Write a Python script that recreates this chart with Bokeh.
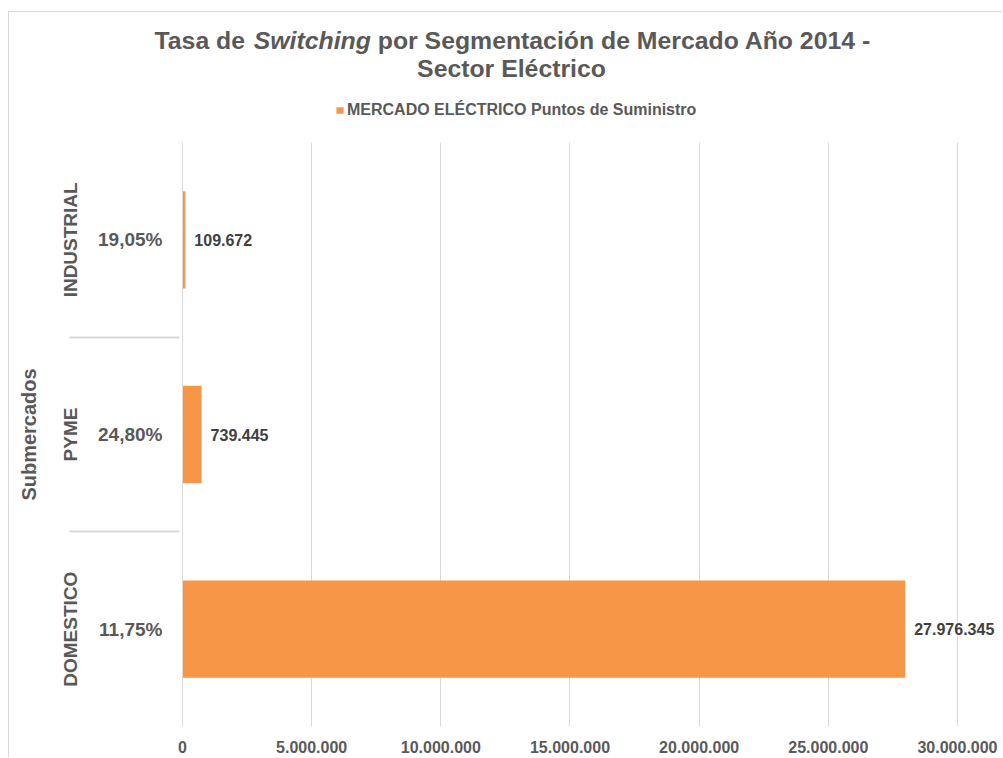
from bokeh.plotting import figure
from bokeh.models import (FactorRange, Range1d, Label, Legend, LegendItem,
                          ColumnDataSource)
from bokeh.core.properties import value
from bokeh.embed import file_html
from bokeh.resources import INLINE

# ---- data ----
segments = ["DOMESTICO", "PYME", "INDUSTRIAL"]
switching_rates = ["11,75%", "24,80%", "19,05%"]
supply_points = [27976345, 739445, 109672]
point_labels = ["27.976.345", "739.445", "109.672"]
x_ticks = [0, 5000000, 10000000, 15000000, 20000000, 25000000, 30000000]
x_tick_labels = ["0", "5.000.000", "10.000.000", "15.000.000",
                 "20.000.000", "25.000.000", "30.000.000"]
title_parts = ["Tasa de", "Switching", "por Segmentación de Mercado Año 2014 -"]
title_styles = ["bold", "bold italic", "bold"]
title_line2 = "Sector Eléctrico"
series_name = "MERCADO ELÉCTRICO Puntos de Suministro"
y_title = "Submercados"

FONT = "Liberation Sans"
GRAY = "#595959"
LINE = "#D9D9D9"
ORANGE = "#F79646"
TITLE_PX = 24.8
W = 994          # content width (8px margin + 1px border to the left)
H_TOP = 131      # title / legend strip
H_MAIN = 615     # chart

src = ColumnDataSource(dict(y=list(zip(segments, switching_rates)),
                            v=supply_points, lab=point_labels))

# ---- title + legend strip: its frame covers the whole strip ----
top = figure(width=W, height=H_TOP, x_range=Range1d(0, W), y_range=Range1d(0, H_TOP),
             output_backend="svg", toolbar_location=None,
             min_border_left=0, min_border_right=0,
             min_border_top=0, min_border_bottom=0)
top.axis.visible = False
top.grid.visible = False
top.outline_line_color = None
top.styles = {"margin-left": "8px", "margin-top": "11px",
              "border-left": "1px solid " + LINE, "border-top": "1px solid " + LINE}

# Liberation Sans Bold advance widths (per 1000 em): "Tasa de " and "Switching "
advance = [4002, 4723 + 278]
x0 = 145
for i, (t, s) in enumerate(zip(title_parts, title_styles)):
    top.add_layout(Label(x=x0, y=103, text=t, text_font=FONT,
                         text_font_style=s, text_font_size=f"{TITLE_PX}px",
                         text_color=GRAY, text_align="left",
                         text_baseline="alphabetic"))
    if i < len(advance):
        x0 += advance[i] * TITLE_PX / 1000.0
top.add_layout(Label(x=502, y=75, text=title_line2, text_font=FONT,
                     text_font_style="bold", text_font_size=f"{TITLE_PX}px",
                     text_color=GRAY, text_align="center",
                     text_baseline="alphabetic"))

# legend swatch comes from a hidden copy of the series (nothing is drawn)
legend_proxy = top.hbar(y=0, left=0, right="v", height=1, source=src,
                        fill_color=ORANGE, line_color=None, visible=False)
legend = Legend(items=[LegendItem(label=series_name, renderers=[legend_proxy])],
                location=(326, 23), orientation="horizontal",
                border_line_color=None, background_fill_alpha=0,
                inactive_fill_alpha=0,
                glyph_width=9, glyph_height=8, label_standoff=3,
                label_height=20, padding=0, margin=0, spacing=0,
                label_text_font=FONT, label_text_font_style="bold",
                label_text_font_size="16px", label_text_color=GRAY)
top.add_layout(legend, "center")

# ---- main chart ----
p = figure(width=W, height=H_MAIN,
           y_range=FactorRange(*src.data["y"], range_padding=0, group_padding=0,
                               factor_padding=0, subgroup_padding=0),
           x_range=Range1d(0, 31781000),
           output_backend="svg", toolbar_location=None,
           min_border_left=173, min_border_right=0,
           min_border_top=0, min_border_bottom=31)
p.outline_line_color = None
p.styles = {"margin-left": "8px", "border-left": "1px solid " + LINE}

bars = p.hbar(y="y", left=0, right="v", height=0.5, source=src,
              fill_color=ORANGE, line_color=None)
p.text(x="v", y="y", text="lab", source=src, x_offset=9,
       text_align="left", text_baseline="middle",
       text_font=value(FONT), text_font_style="bold",
       text_font_size="16px", text_color="#404040")

xa = p.xaxis[0]
xa.ticker = x_ticks
xa.major_label_overrides = {t: s for t, s in zip(x_ticks, x_tick_labels)}
xa.axis_line_color = None
xa.major_tick_line_color = None
xa.minor_tick_line_color = None
xa.major_label_text_font = FONT
xa.major_label_text_font_style = "bold"
xa.major_label_text_font_size = "16px"
xa.major_label_text_color = GRAY
xa.major_label_standoff = 8

p.xgrid.grid_line_color = LINE
p.ygrid.grid_line_color = None

ya = p.yaxis[0]
ya.axis_line_color = LINE
ya.major_tick_line_color = None
ya.minor_tick_line_color = None
ya.major_label_orientation = "horizontal"
ya.group_label_orientation = "parallel"
ya.major_label_text_font = FONT
ya.major_label_text_font_style = "bold"
ya.major_label_text_font_size = "19px"
ya.major_label_text_color = GRAY
ya.major_label_standoff = 14
ya.group_text_font = FONT
ya.group_text_font_style = "bold"
ya.group_text_font_size = "19px"
ya.group_text_color = GRAY
ya.separator_line_color = LINE
ya.axis_label = y_title
ya.axis_label_text_font = FONT
ya.axis_label_text_font_style = "bold"
ya.axis_label_text_font_size = "20px"
ya.axis_label_text_color = GRAY
ya.axis_label_standoff = 17

open("out.html", "w").write(file_html([top, p], INLINE))
